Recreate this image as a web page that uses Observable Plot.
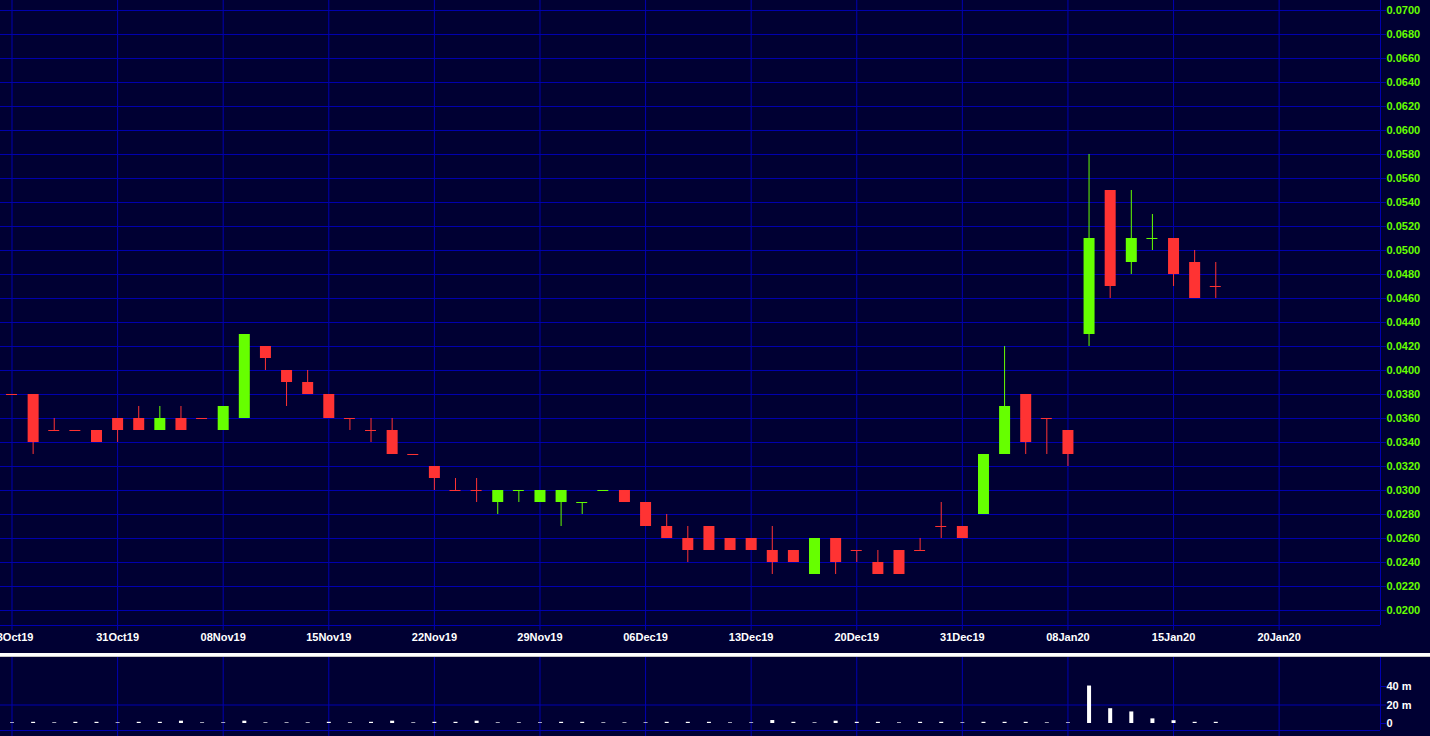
<!DOCTYPE html>
<html><head><meta charset="utf-8">
<script src="https://cdn.jsdelivr.net/npm/d3@7"></script>
<script src="https://cdn.jsdelivr.net/npm/@observablehq/plot@0.6"></script>
<style>
html,body{margin:0;padding:0;background:#000033;overflow:hidden;width:1430px;height:736px}
#chart svg,#vol svg{display:block}
.sep{height:3px;background:#ffffff;border-bottom:1px solid #c8c8c8}
</style></head><body>
<div id="chart"></div><div class="sep"></div><div id="vol"></div>
<script>
// ---- data ----
const tickIndex = [0, 5, 10, 15, 20, 25, 30, 35, 40, 45, 50, 55, 60];
const dateLabels = ["23Oct19","31Oct19","08Nov19","15Nov19","22Nov19","29Nov19","06Dec19","13Dec19","20Dec19","31Dec19","08Jan20","15Jan20","20Jan20"];
const yTickLabels = ["0.0200","0.0220","0.0240","0.0260","0.0280","0.0300","0.0320","0.0340","0.0360","0.0380","0.0400","0.0420","0.0440","0.0460","0.0480","0.0500","0.0520","0.0540","0.0560","0.0580","0.0600","0.0620","0.0640","0.0660","0.0680","0.0700"];
const volTickValues = [0, 20, 40];
const volTickLabels = ["0", "20 m", "40 m"];

const open  = [0.038,0.038,0.035,0.035,0.035,0.036,0.036,0.035,0.036,0.036,0.035,0.036,0.042,0.040,0.039,0.038,0.036,0.035,0.035,0.033,0.032,0.030,0.030,0.029,0.030,0.029,0.029,0.029,0.030,0.030,0.029,0.027,0.026,0.027,0.026,0.026,0.025,0.025,0.023,0.026,0.025,0.024,0.025,0.025,0.027,0.027,0.028,0.033,0.038,0.036,0.035,0.043,0.055,0.049,0.051,0.051,0.049,0.047];
const high  = [0.038,0.038,0.036,0.035,0.035,0.036,0.037,0.037,0.037,0.036,0.037,0.043,0.042,0.040,0.040,0.038,0.036,0.036,0.036,0.033,0.032,0.031,0.031,0.030,0.030,0.030,0.030,0.029,0.030,0.030,0.029,0.028,0.027,0.027,0.026,0.026,0.027,0.025,0.026,0.026,0.025,0.025,0.025,0.026,0.029,0.027,0.033,0.042,0.038,0.036,0.035,0.058,0.055,0.055,0.053,0.051,0.050,0.049];
const low   = [0.038,0.033,0.035,0.035,0.034,0.034,0.035,0.035,0.035,0.036,0.035,0.036,0.040,0.037,0.038,0.036,0.035,0.034,0.033,0.033,0.030,0.030,0.029,0.028,0.029,0.029,0.027,0.028,0.030,0.029,0.027,0.026,0.024,0.025,0.025,0.025,0.023,0.024,0.023,0.023,0.024,0.023,0.023,0.025,0.026,0.026,0.028,0.033,0.033,0.033,0.032,0.042,0.046,0.048,0.050,0.047,0.046,0.046];
const close = [0.038,0.034,0.035,0.035,0.034,0.035,0.035,0.036,0.035,0.036,0.037,0.043,0.041,0.039,0.038,0.036,0.036,0.035,0.033,0.033,0.031,0.030,0.030,0.030,0.030,0.030,0.030,0.029,0.030,0.029,0.027,0.026,0.025,0.025,0.025,0.025,0.024,0.024,0.026,0.024,0.025,0.023,0.023,0.025,0.027,0.026,0.033,0.037,0.034,0.036,0.033,0.051,0.047,0.051,0.051,0.048,0.046,0.047];
// volume in millions
const volume = [0.7,1.3,0.7,1.3,1.3,0.7,1.3,1.3,2.5,0.7,0.7,2.5,0.7,0.7,0.7,1.3,0.7,1.3,2.5,0.7,1.3,1.3,2.5,0.7,0.7,0.7,1.3,1.3,0.7,0.7,0.7,1.3,1.3,1.3,0.7,0.7,3.2,1.3,0.7,2.5,1.3,1.3,0.7,1.3,1.3,0.7,1.3,1.3,1.3,0.7,0.7,40.5,16,12.5,5,3,1.3,1.3];
// unchanged sessions drawn in the "up" colour
const greenDoji = [24, 27, 28, 54];

// ---- styling ----
const BG = "#000033", GRID = "#0000b0", GREEN = "#66ff00", RED = "#ff3333";
const W = 1430;
const xDomain = [-0.545, 64.8];
const yDomain = [0.01875, 0.0708333];
const volDomain = [-14.05, 71.35];
const volBottom = -7.57;
const baseStyle = {background: BG, fontFamily: "'Liberation Sans', Arial, sans-serif", fontSize: "11px", fontWeight: "bold", overflow: "visible"};

const candles = open.map((o, i) => ({
  i, o, h: high[i], l: low[i], c: close[i], v: volume[i],
  up: close[i] > o || (close[i] === o && greenDoji.includes(i))
}));
const col = d => d.up ? GREEN : RED;
const labelMap = new Map(tickIndex.map((t, k) => [t, dateLabels[k]]));
const yTicks = yTickLabels.map(Number);
const volLabelMap = new Map(volTickValues.map((t, k) => [t, volTickLabels[k]]));

const main = Plot.plot({
  width: W, height: 653,
  marginLeft: 0, marginRight: 50, marginTop: 0, marginBottom: 28,
  style: baseStyle,
  x: {domain: xDomain, axis: null},
  y: {domain: yDomain, axis: null},
  color: {type: "identity"},
  marks: [
    Plot.gridX(tickIndex, {stroke: GRID, strokeOpacity: 1}),
    Plot.gridY(yTicks, {stroke: GRID, strokeOpacity: 1}),
    Plot.ruleY([yDomain[0]], {stroke: GRID}),
    Plot.ruleX([xDomain[1]], {stroke: GRID}),
    Plot.axisX(tickIndex, {anchor: "bottom", tickSize: 5, tickPadding: 3, tickFormat: d => labelMap.get(d), stroke: GRID, fill: "white", label: null}),
    Plot.axisY(yTicks, {anchor: "right", tickSize: 5, tickPadding: 1, tickFormat: d => d.toFixed(4), stroke: GRID, fill: GREEN, label: null}),
    Plot.ruleX(candles, {x: "i", y1: "l", y2: "h", stroke: col, strokeWidth: 1}),
    Plot.ruleX(candles.filter(d => d.o !== d.c), {x: "i", y1: "o", y2: "c", stroke: col, strokeWidth: 11}),
    Plot.ruleY(candles.filter(d => d.o === d.c), {y: "c", x1: d => d.i - 0.26, x2: d => d.i + 0.26, stroke: col, strokeWidth: 1})
  ]
});
document.getElementById("chart").appendChild(main);

const vol = Plot.plot({
  width: W, height: 79,
  marginLeft: 0, marginRight: 50, marginTop: 0, marginBottom: 0,
  style: baseStyle,
  x: {domain: xDomain, axis: null},
  y: {domain: volDomain, axis: null},
  marks: [
    Plot.gridX(tickIndex, {stroke: GRID, strokeOpacity: 1}),
    Plot.gridY([20], {stroke: GRID, strokeOpacity: 1}),
    Plot.ruleY([volBottom], {stroke: GRID}),
    Plot.ruleX([xDomain[1]], {y1: volBottom, y2: volDomain[1], stroke: GRID}),
    Plot.axisY(volTickValues, {anchor: "right", tickSize: 5, tickPadding: 1, tickFormat: d => volLabelMap.get(d), stroke: GRID, fill: "white", label: null}),
    Plot.ruleX(candles, {x: "i", y1: 0, y2: "v", stroke: "white", strokeWidth: 4})
  ]
});
document.getElementById("vol").appendChild(vol);
</script>
</body></html>
